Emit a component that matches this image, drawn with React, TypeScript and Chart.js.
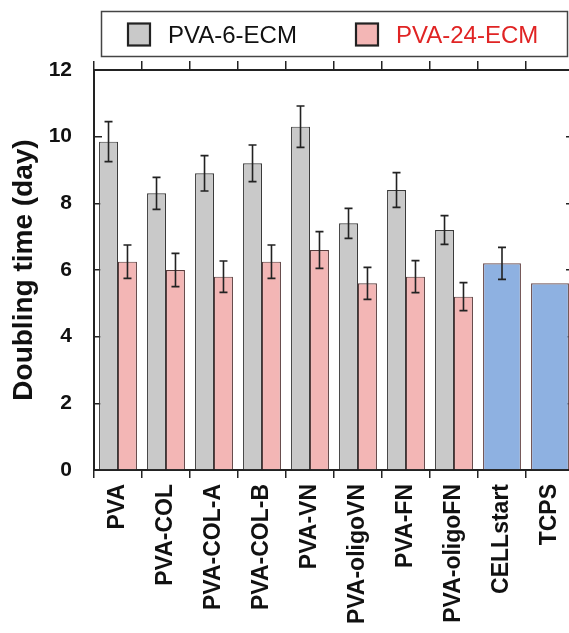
import React, { useEffect, useRef } from 'react';
import { Chart, registerables } from 'chart.js';

Chart.register(...registerables);

const FONT = '"Liberation Sans", Arial, Helvetica, sans-serif';

const categories = ['PVA', 'PVA-COL', 'PVA-COL-A', 'PVA-COL-B', 'PVA-VN', 'PVA-oligoVN', 'PVA-FN', 'PVA-oligoFN', 'CELLstart', 'TCPS'];
const seriesNames = ['PVA-6-ECM', 'PVA-24-ECM', 'Control'];
const pva6 = [9.85, 8.3, 8.9, 9.2, 10.3, 7.4, 8.4, 7.2, null, null];
const pva6Err = [0.6, 0.48, 0.53, 0.55, 0.62, 0.45, 0.52, 0.43, null, null];
const pva24 = [6.25, 6.0, 5.8, 6.25, 6.6, 5.6, 5.8, 5.2, null, null];
const pva24Err = [0.5, 0.5, 0.47, 0.5, 0.55, 0.48, 0.48, 0.42, null, null];
const control = [null, null, null, null, null, null, null, null, 6.2, 5.6];
const controlErr = [null, null, null, null, null, null, null, null, 0.48, null];
const yTicks = [0, 2, 4, 6, 8, 10, 12];
const yTitle = 'Doubling time (day)';

const errorSets = [pva6Err, pva24Err, controlErr];

const errorPlugin = {
  id: 'errorBars',
  afterDatasetsDraw(chart: any) {
    const { ctx } = chart;
    const y = chart.scales.y;
    ctx.save();
    ctx.strokeStyle = '#222';
    ctx.lineWidth = 1.6;
    chart.data.datasets.forEach((ds: any, di: number) => {
      const errs = errorSets[di];
      if (!errs) return;
      const meta = chart.getDatasetMeta(di);
      meta.data.forEach((bar: any, i: number) => {
        const v = ds.data[i];
        const e = errs[i];
        if (v == null || e == null) return;
        const x = bar.x;
        const top = y.getPixelForValue(v + e);
        const bot = y.getPixelForValue(v - e);
        ctx.beginPath();
        ctx.moveTo(x, top);
        ctx.lineTo(x, bot);
        ctx.moveTo(x - 4, top);
        ctx.lineTo(x + 4, top);
        ctx.moveTo(x - 4, bot);
        ctx.lineTo(x + 4, bot);
        ctx.stroke();
      });
    });
    ctx.restore();
  },
};

const legendPlugin = {
  id: 'boxLegend',
  afterDraw(chart: any) {
    const { ctx, chartArea } = chart;
    const L = chartArea.left;
    ctx.save();
    ctx.strokeStyle = '#444';
    ctx.lineWidth = 1.5;
    ctx.strokeRect(L + 7.5, 11.5, chartArea.right - L - 14, 45);
    const items = chart.data.datasets.slice(0, 2);
    const boxX = [L + 34, L + 262];
    const textColors = ['#111111', '#e02424'];
    ctx.font = `24px ${FONT}`;
    ctx.textBaseline = 'middle';
    ctx.textAlign = 'left';
    items.forEach((ds: any, i: number) => {
      ctx.fillStyle = ds.backgroundColor;
      ctx.fillRect(boxX[i], 23.5, 22, 22);
      ctx.lineWidth = 2.2;
      ctx.strokeStyle = '#222';
      ctx.strokeRect(boxX[i], 23.5, 22, 22);
      ctx.fillStyle = textColors[i];
      ctx.fillText(ds.label, boxX[i] + 40, 36.5);
    });
    ctx.restore();
  },
};

export default function App() {
  const canvasRef = useRef<HTMLCanvasElement | null>(null);

  useEffect(() => {
    if (!canvasRef.current) return;
    const common = {
      skipNull: true,
      categoryPercentage: 0.79,
      barPercentage: 1.0,
      borderWidth: 1.2,
    };
    const chart = new Chart(canvasRef.current, {
      type: 'bar',
      data: {
        labels: categories,
        datasets: [
          { ...common, label: seriesNames[0], data: pva6, backgroundColor: '#c9c9c9', borderColor: '#3a3a3a' },
          { ...common, label: seriesNames[1], data: pva24, backgroundColor: '#f3b6b5', borderColor: '#5a3d3d' },
          { ...common, label: seriesNames[2], data: control, backgroundColor: '#8eb1e1', borderColor: '#6a4a4a' },
        ],
      },
      options: {
        responsive: false,
        animation: false,
        devicePixelRatio: 1,
        layout: { padding: { top: 60, left: 0, right: 0, bottom: 0 } },
        plugins: {
          legend: { display: false },
          tooltip: { enabled: false },
        },
        scales: {
          x: {
            type: 'category',
            position: 'bottom',
            offset: true,
            grid: { offset: true, drawOnChartArea: false, drawTicks: true, tickLength: 8, color: '#222', lineWidth: 1.5 },
            border: { color: '#222', width: 2 },
            ticks: {
              autoSkip: false,
              minRotation: 90,
              maxRotation: 90,
              padding: 6,
              color: '#111',
              font: { family: FONT, size: 23, weight: 'bold' },
            },
            afterFit: (s: any) => { s.height = 163; },
          },
          x2: {
            type: 'category',
            position: 'top',
            offset: true,
            grid: { offset: true, drawOnChartArea: false, drawTicks: true, tickLength: 9, color: '#222', lineWidth: 1.5 },
            border: { color: '#222', width: 2 },
            ticks: { display: false },
            afterFit: (s: any) => { s.height = 10; },
          },
          y: {
            type: 'linear',
            position: 'left',
            min: yTicks[0],
            max: yTicks[yTicks.length - 1],
            afterBuildTicks: (s: any) => { s.ticks = yTicks.map((v) => ({ value: v })); },
            grid: { drawOnChartArea: false, drawTicks: true, tickLength: -8, color: '#222', lineWidth: 1.5 },
            border: { color: '#222', width: 2 },
            ticks: {
              padding: 30,
              color: '#111',
              font: { family: FONT, size: 21, weight: 'bold' },
            },
            title: {
              display: true,
              text: yTitle,
              color: '#111',
              font: { family: FONT, size: 28, weight: 'bold' },
              padding: { top: 7, bottom: 0 },
            },
            afterFit: (s: any) => { s.width = 94; },
          },
          y2: {
            type: 'linear',
            position: 'right',
            min: yTicks[0],
            max: yTicks[yTicks.length - 1],
            afterBuildTicks: (s: any) => { s.ticks = yTicks.map((v) => ({ value: v })); },
            grid: { drawOnChartArea: false, drawTicks: true, tickLength: -8, color: '#222', lineWidth: 1.5 },
            border: { color: '#222', width: 2 },
            ticks: { display: false },
            afterFit: (s: any) => { s.width = 26; },
          },
        },
      } as any,
      plugins: [errorPlugin, legendPlugin],
    });
    return () => chart.destroy();
  }, []);

  return (
    <div style={{ position: 'fixed', left: 0, top: 0, width: 569, height: 633, overflow: 'hidden', background: '#fff' }}>
      <canvas ref={canvasRef} width={600} height={633} style={{ display: 'block', width: 600, height: 633 }} />
    </div>
  );
}
